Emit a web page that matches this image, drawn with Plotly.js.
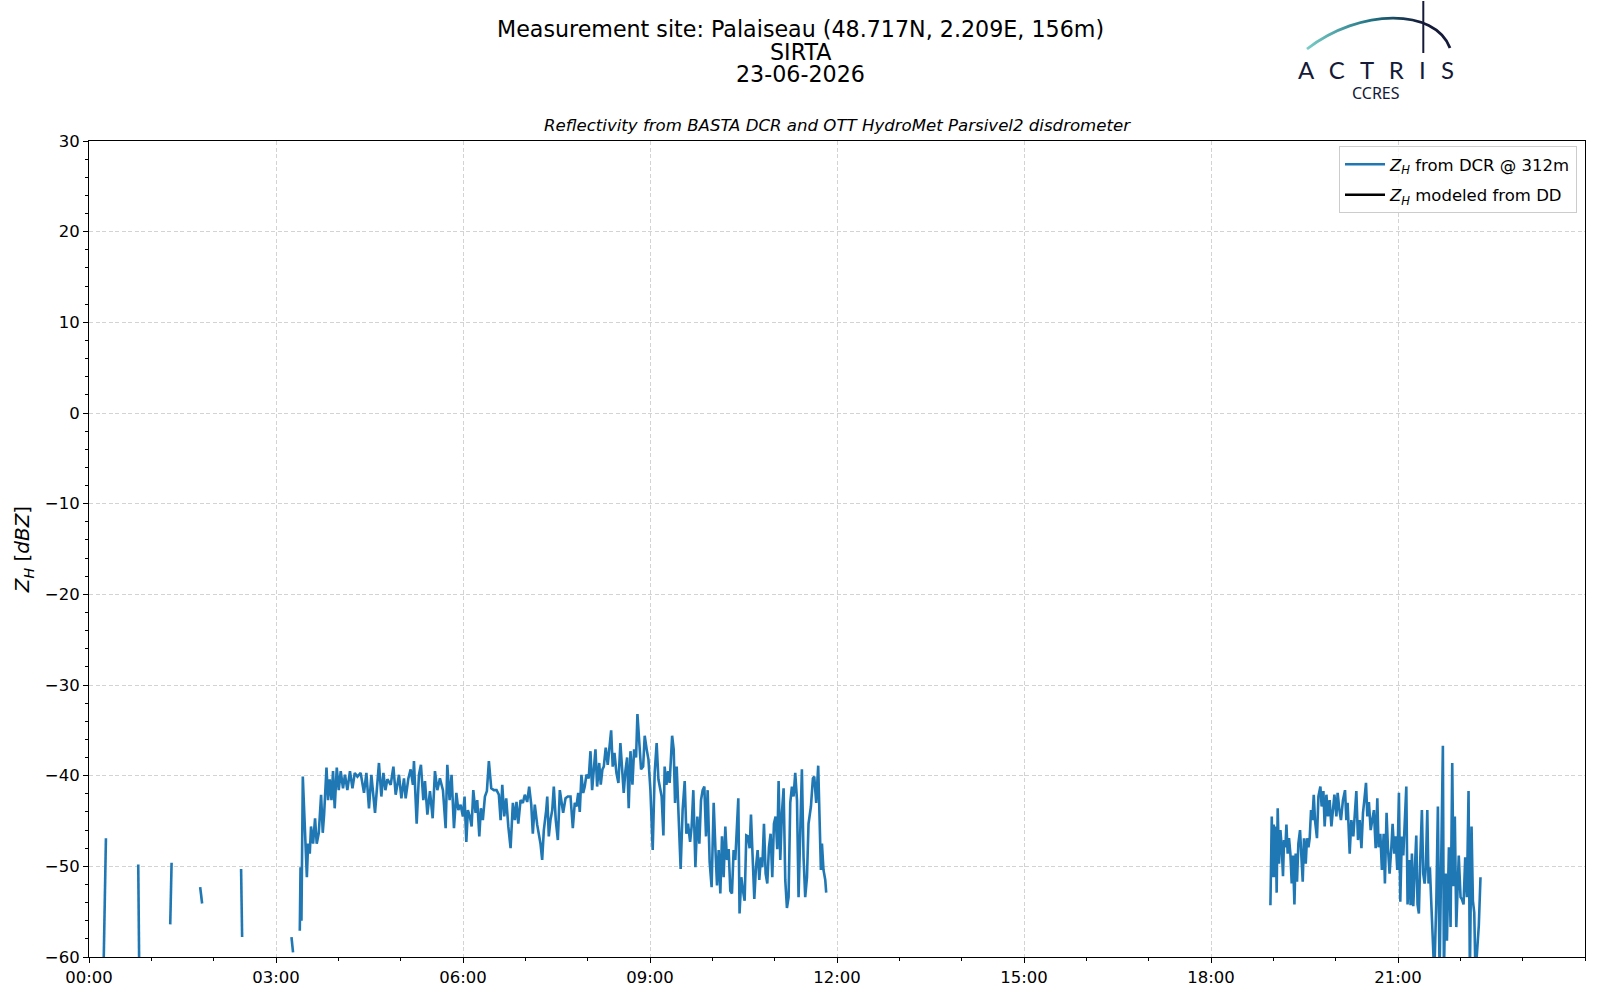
<!DOCTYPE html>
<html>
<head>
<meta charset="utf-8">
<script src="https://cdn.plot.ly/plotly-3.0.1.min.js"></script>
<style>
  html, body { margin: 0; padding: 0; background: #fff; }
  #plot { width: 1600px; height: 1000px; }
</style>
</head>
<body>
<div id="plot"></div>
<script>
    // minutes after 00:00 UTC and reflectivity in dBZ
    // null = gap in the record
    let earlyMin = [13.9, 16.3, null, 47.4, 48.4, null, 78.2, 79.5, null, 107.0, 108.9, null, 146.4, 147.4, null, 194.9, 196.4];
    let earlyZh = [-62, -46.9, null, -49.8, -62, null, -56.4, -49.6, null, -52.3, -54.1, null, -50.3, -57.8, null, -57.8, -59.5];

    let morningMin = [
        202.9, 203.6, 204.5, 205.8, 209.7, 210.9, 212.5, 213.7, 215.7, 217.6, 219.2, 221.2, 223.4, 225.0, 226.3, 228.6,
        230.1, 231.7, 233.4, 234.9, 236.5, 238.5, 240.4, 242.3, 244.5, 246.4, 248.7, 251.2, 253.6, 255.8, 258.4, 261.5,
        264.7, 267.0, 269.5, 271.8, 275.3, 279.1, 281.4, 283.4, 285.3, 287.2, 290.4, 293.0, 295.2, 298.4, 300.7, 303.2,
        304.8, 307.4, 309.6, 311.8, 312.8, 315.4, 317.6, 319.5, 321.8, 323.4, 325.7, 328.2, 330.8, 333.0, 335.3, 337.8,
        340.7, 343.3, 344.9, 347.1, 349.0, 351.3, 353.6, 355.5, 357.7, 359.9, 361.5, 363.2, 364.7, 366.6, 368.3, 369.9,
        372.1, 373.7, 375.7, 377.2, 379.1, 381.1, 383.0, 384.9, 387.2, 389.7, 392.3, 394.5, 396.2, 397.8, 399.7, 401.6,
        403.6, 405.8, 408.0, 409.9, 411.5, 413.2, 415.4, 417.6, 419.5, 421.8, 423.7, 425.7, 427.2, 429.1, 431.4, 433.0,
        434.6, 436.2, 437.8, 440.1, 441.1, 442.6, 444.2, 445.9, 447.4, 449.3, 451.3, 453.2, 456.4, 458.7, 460.9, 463.5,
        465.7, 467.6, 469.2, 470.9, 472.4, 474.0, 475.7, 477.2, 478.8, 481.0, 482.7, 484.3, 485.9, 487.5, 489.1, 491.1,
        492.6, 494.2, 495.5, 497.4, 499.3, 501.0, 502.6, 504.1, 505.8, 507.7, 509.6, 511.5, 513.2, 514.7, 516.3, 518.0,
        519.5, 521.2, 523.1, 524.7, 526.6, 527.9, 529.5, 531.4, 533.4, 534.9, 536.8, 538.5, 540.4, 542.6, 544.5, 546.4,
        548.1, 549.7, 551.2, 552.9, 554.1, 555.8, 557.4, 558.9, 561.3, 562.8, 564.1, 565.7, 567.6, 569.5, 571.4, 573.4,
        575.0, 576.6, 578.6, 580.1, 581.7, 583.7, 585.6, 587.5, 589.1, 590.7, 592.3, 593.9, 595.5, 597.4, 599.3, 601.3,
        602.9, 604.5, 606.1, 607.7, 609.3, 610.9, 612.5, 614.1, 615.7, 617.3, 618.9, 620.5, 622.1, 623.7, 625.0, 626.2,
        627.9, 629.5, 631.1, 632.7, 634.3, 635.9, 637.2, 638.8, 640.4, 642.0, 643.6, 645.2, 646.8, 648.1, 649.7, 651.3,
        652.9, 654.5, 656.1, 657.7, 659.3, 660.9, 662.5, 663.8, 665.4, 667.0, 668.6, 670.2, 671.8, 673.4, 675.0, 676.6,
        678.2, 679.8, 681.5, 683.0, 684.6, 686.2, 687.8, 689.4, 691.1, 692.6, 694.9, 696.8, 698.1, 700.0, 701.9, 703.2,
        704.5, 705.5, 707.0, 708.7, 709.6
    ];
    let morningZh = [
        -57.1, -50.1, -56.0, -40.1, -51.2, -47.5, -48.6, -45.6, -47.5, -44.7, -47.5, -46.3, -42.1, -46.3, -44.3, -39.1,
        -42.7, -40.4, -42.7, -39.5, -43.6, -39.1, -41.6, -39.5, -41.4, -39.9, -41.6, -39.5, -41.4, -39.7, -40.1, -39.7,
        -41.9, -39.7, -43.6, -39.9, -44.1, -38.6, -42.3, -39.7, -41.6, -40.4, -41.0, -39.0, -42.1, -39.9, -42.5, -40.3,
        -42.5, -40.3, -39.3, -41.0, -38.4, -45.3, -39.9, -38.8, -42.7, -40.6, -44.3, -41.7, -44.7, -39.5, -41.6, -40.3,
        -41.6, -45.8, -38.8, -42.7, -39.9, -45.8, -41.9, -43.8, -43.2, -44.5, -42.3, -47.3, -43.8, -44.5, -45.6, -41.6,
        -44.1, -42.7, -46.7, -43.6, -44.9, -42.3, -41.7, -38.4, -41.4, -41.6, -41.6, -42.1, -44.9, -41.0, -44.5, -42.5,
        -45.6, -48.0, -43.0, -44.9, -42.9, -45.3, -42.7, -43.0, -42.1, -42.9, -41.2, -43.2, -46.4, -43.2, -45.4, -46.6,
        -47.5, -49.3, -46.0, -43.8, -42.3, -46.7, -44.9, -43.8, -41.2, -44.9, -47.1, -41.6, -44.1, -42.5, -42.3, -42.3,
        -45.8, -43.0, -43.4, -41.9, -44.0, -39.9, -41.9, -41.2, -39.9, -40.3, -37.3, -41.6, -39.7, -37.1, -41.2, -38.6,
        -41.0, -39.3, -39.0, -36.9, -38.8, -36.7, -35.0, -39.0, -37.5, -39.7, -40.8, -36.4, -40.1, -41.9, -39.5, -38.0,
        -43.6, -37.3, -41.0, -37.1, -38.0, -33.2, -36.0, -39.3, -39.0, -35.6, -37.1, -38.2, -41.6, -48.2, -39.7, -36.4,
        -40.4, -41.6, -42.3, -46.6, -39.0, -41.0, -39.5, -40.8, -35.6, -37.1, -43.0, -39.0, -45.3, -50.3, -43.8, -40.6,
        -46.4, -45.3, -47.3, -45.6, -41.6, -50.1, -44.5, -47.5, -42.7, -41.6, -41.2, -46.7, -41.6, -49.5, -52.3, -43.0,
        -47.9, -52.1, -48.2, -53.0, -46.7, -51.2, -45.6, -49.3, -48.1, -52.7, -53.0, -48.2, -49.3, -44.9, -42.5, -55.2,
        -51.2, -52.7, -53.8, -46.6, -46.7, -48.0, -44.3, -49.0, -53.6, -50.1, -48.2, -51.5, -49.0, -50.1, -45.3, -50.8,
        -51.9, -47.9, -46.4, -51.2, -45.3, -44.5, -48.1, -40.6, -49.3, -44.1, -41.4, -51.5, -54.6, -53.4, -43.0, -41.2,
        -42.3, -39.7, -42.7, -53.4, -45.3, -39.3, -49.0, -53.4, -51.2, -45.3, -43.4, -40.3, -40.1, -43.0, -38.9, -44.0,
        -50.4, -47.5, -50.4, -51.5, -52.9
    ];

    let eveningMin = [
        1137.2, 1138.5, 1139.4, 1140.4, 1141.3, 1142.3, 1143.2, 1144.2, 1145.5, 1146.8, 1148.1, 1149.3, 1150.3, 1151.6, 1152.6, 1153.8,
        1155.1, 1156.4, 1157.7, 1158.9, 1160.3, 1161.5, 1162.8, 1164.1, 1165.7, 1167.0, 1168.3, 1169.5, 1171.2, 1172.4, 1173.8, 1175.0,
        1176.3, 1177.6, 1178.9, 1180.1, 1182.0, 1183.4, 1185.3, 1186.5, 1188.2, 1189.4, 1191.1, 1192.6, 1194.2, 1195.9, 1197.4, 1198.8,
        1200.7, 1201.9, 1203.6, 1205.1, 1207.0, 1209.0, 1210.3, 1211.5, 1213.5, 1215.1, 1217.0, 1218.6, 1219.9, 1221.5, 1223.1, 1224.8,
        1226.3, 1227.6, 1229.2, 1230.5, 1232.0, 1233.7, 1235.3, 1236.8, 1238.5, 1240.1, 1241.3, 1243.0, 1244.5, 1246.2, 1247.4, 1249.0,
        1250.3, 1251.9, 1253.6, 1254.8, 1256.4, 1257.7, 1259.3, 1260.9, 1262.2, 1263.7, 1265.1, 1266.6, 1268.0, 1269.2, 1270.9, 1272.1,
        1273.4, 1274.7, 1276.0, 1277.6, 1278.8, 1280.1, 1281.4, 1283.0, 1284.3, 1285.6, 1286.8, 1288.2, 1289.4, 1290.7, 1292.0, 1293.3,
        1294.9, 1296.9, 1298.4, 1300.0, 1301.7, 1303.2, 1304.2, 1305.9, 1307.1, 1309.0, 1310.6, 1312.2, 1313.5, 1314.7, 1316.1, 1318.5,
        1320.2, 1321.4, 1323.1, 1324.7, 1326.3, 1327.9, 1329.2, 1330.8, 1332.1, 1333.4, 1334.6, 1337.8, 1339.4
    ];
    let eveningZh = [
        -54.3, -44.5, -51.2, -45.4, -51.2, -45.6, -52.9, -43.6, -49.7, -46.0, -47.9, -51.1, -47.1, -47.9, -45.4, -48.6,
        -46.9, -48.6, -51.9, -48.8, -54.2, -48.6, -51.7, -47.5, -46.0, -49.3, -51.7, -46.9, -49.7, -46.9, -47.9, -46.9,
        -43.8, -44.9, -42.1, -44.9, -46.9, -42.3, -41.2, -43.4, -41.7, -45.6, -42.1, -44.5, -42.7, -45.6, -43.4, -42.1,
        -44.5, -41.9, -43.8, -44.9, -42.7, -41.6, -44.9, -43.0, -48.6, -44.9, -46.7, -43.8, -41.7, -47.1, -44.9, -48.0,
        -44.1, -42.7, -40.8, -44.5, -42.9, -46.0, -44.9, -43.8, -48.0, -42.5, -47.9, -46.4, -50.4, -46.4, -51.9, -44.1,
        -47.9, -50.8, -47.9, -45.3, -48.6, -46.7, -50.4, -41.9, -53.9, -46.7, -48.8, -44.5, -41.2, -54.2, -49.3, -54.3,
        -48.6, -54.4, -50.1, -46.6, -54.2, -55.2, -49.3, -43.8, -50.8, -51.9, -50.1, -43.8, -51.9, -50.1, -53.9, -57.5,
        -62.0, -53.8, -43.4, -62.0, -48.6, -36.7, -62.0, -50.8, -58.2, -47.9, -56.7, -38.6, -52.2, -44.5, -56.7, -48.8,
        -53.4, -53.6, -54.2, -49.0, -53.4, -41.7, -62.0, -45.6, -53.8, -55.1, -62.0, -56.5, -51.2
    ];

    // disdrometer-modelled reflectivity: no valid value on this day
    let ddMin = [0];
    let ddZh = [null];

    let tickLabels = ['00:00', '03:00', '06:00', '09:00', '12:00', '15:00', '18:00', '21:00'];
    let day = '2026-06-23';

    let pad = (n) => String(n).padStart(2, '0');
    let stamp = (m) => {
        if (m === null) return null;
        let s = Math.round(m * 60);
        return day + ' ' + pad(Math.floor(s / 3600)) + ':' + pad(Math.floor(s / 60) % 60) + ':' + pad(s % 60);
    };

    let dcrMin = earlyMin.concat([null], morningMin, [null], eveningMin);
    let dcrZh = earlyZh.concat([null], morningZh, [null], eveningZh);

    let font = 'DejaVu Sans, sans-serif';
    let navy = '#141a38';

    // figure pixel -> paper coordinates (plot area 89..1585 x 141..957)
    let px = (x) => (x - 89) / 1496;
    let py = (y) => (957 - y) / 816;

    let logoSvg = '<svg xmlns="http://www.w3.org/2000/svg" width="160" height="60" viewBox="0 0 160 60" preserveAspectRatio="none">' +
        '<defs><linearGradient id="g" x1="0" y1="0" x2="1" y2="0">' +
        '<stop offset="0" stop-color="#7accc6"/><stop offset="0.45" stop-color="#1f7384"/><stop offset="0.8" stop-color="#141a38"/></linearGradient></defs>' +
        '<path d="M 7 49 C 60 8, 135 8, 150 48" fill="none" stroke="url(#g)" stroke-width="2.8"/>' +
        '<path d="M 123.3 1 L 123.3 53" stroke="' + navy + '" stroke-width="2"/></svg>';

    let traces = [{
        type: 'scatter',
        mode: 'lines',
        x: dcrMin.map(stamp),
        y: dcrZh,
        name: '<i>Z</i><sub><i>H</i></sub> from DCR @ 312m',
        legendgroup: 'dcr',
        line: {color: '#1f77b4', width: 2.6},
        connectgaps: false
    }, {
        type: 'scatter',
        mode: 'lines',
        x: ddMin.map(stamp),
        y: ddZh,
        name: '<i>Z</i><sub><i>H</i></sub> modeled from DD',
        legendgroup: 'dd',
        line: {color: '#000000', width: 2.6},
        showlegend: true
    }];

    let grid = {showgrid: true, gridcolor: '#d3d3d3', griddash: '4px,2.5px', gridwidth: 1};

    let layout = {
        width: 1600,
        height: 1000,
        margin: {l: 89, r: 15, t: 141, b: 43},
        paper_bgcolor: '#ffffff',
        plot_bgcolor: '#ffffff',
        font: {family: font, size: 16.5, color: '#000'},
        showlegend: true,
        legend: {
            x: px(1577), xanchor: 'right', y: py(146), yanchor: 'top',
            bgcolor: 'rgba(255,255,255,0.8)', bordercolor: '#cccccc', borderwidth: 1,
            itemwidth: 40, tracegroupgap: 6,
            font: {family: font, size: 16.5}
        },
        xaxis: Object.assign({
            type: 'date',
            range: [day + ' 00:00', '2026-06-24 00:00'],
            tickvals: tickLabels.map((t) => day + ' ' + t),
            ticktext: tickLabels,
            ticks: 'outside', ticklen: 5, tickwidth: 1, tickcolor: '#000',
            minor: {dtick: 3600000, ticks: 'outside', ticklen: 3, tickcolor: '#000', showgrid: false},
            showline: true, mirror: true, linecolor: '#000', linewidth: 1,
            zeroline: false,
            tickfont: {size: 16.5}
        }, grid),
        yaxis: Object.assign({
            range: [-60, 30],
            dtick: 10,
            ticks: 'outside', ticklen: 5, tickwidth: 1, tickcolor: '#000',
            minor: {dtick: 2, ticks: 'outside', ticklen: 3, tickcolor: '#000', showgrid: false},
            showline: true, mirror: true, linecolor: '#000', linewidth: 1,
            zeroline: false,
            tickfont: {size: 16.5},
            title: {text: '<i>Z</i><sub><i>H</i></sub> [<i>dBZ</i>]', font: {size: 20}, standoff: 9}
        }, grid),
        annotations: [
            {text: 'Measurement site: Palaiseau (48.717N, 2.209E, 156m)', xref: 'paper', yref: 'paper', x: px(800), y: py(29),
             xanchor: 'center', yanchor: 'middle', showarrow: false, font: {size: 22.2}},
            {text: 'SIRTA', xref: 'paper', yref: 'paper', x: px(800), y: py(51.5),
             xanchor: 'center', yanchor: 'middle', showarrow: false, font: {size: 22.2}},
            {text: '23-06-2026', xref: 'paper', yref: 'paper', x: px(800), y: py(74.5),
             xanchor: 'center', yanchor: 'middle', showarrow: false, font: {size: 22.2}},
            {text: '<i>Reflectivity from BASTA DCR and OTT HydroMet Parsivel2 disdrometer</i>', xref: 'paper', yref: 'paper',
             x: 0.5, y: py(125), xanchor: 'center', yanchor: 'middle', showarrow: false, font: {size: 16.6}},
            {text: 'A\u00a0\u00a0\u2009C\u00a0\u00a0\u2009T\u00a0\u00a0\u2009R\u00a0\u00a0\u2009I\u00a0\u00a0\u2009S', xref: 'paper', yref: 'paper',
             x: px(1376), y: py(69), xanchor: 'center', yanchor: 'middle', showarrow: false,
             font: {family: 'Lato, Noto Sans, sans-serif', size: 24, color: navy}},
            {text: 'CCRES', xref: 'paper', yref: 'paper', x: px(1376), y: py(93),
             xanchor: 'center', yanchor: 'middle', showarrow: false,
             font: {family: 'Noto Sans, sans-serif', size: 16, color: navy}}
        ],
        images: [{
            source: 'data:image/svg+xml;charset=utf-8,' + encodeURIComponent(logoSvg),
            xref: 'paper', yref: 'paper',
            x: px(1300), y: py(0),
            sizex: 160 / 1496, sizey: 60 / 816,
            xanchor: 'left', yanchor: 'top', sizing: 'stretch', layer: 'above'
        }]
    };

    Plotly.newPlot('plot', traces, layout, {displayModeBar: false, staticPlot: true});
</script>
</body>
</html>
